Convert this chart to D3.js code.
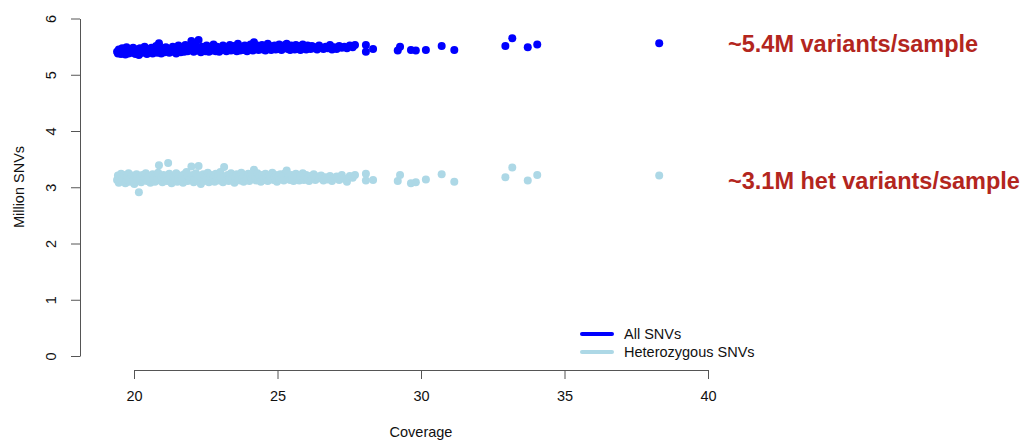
<!DOCTYPE html>
<html>
<head>
<meta charset="utf-8">
<script src="https://cdn.jsdelivr.net/npm/d3@7"></script>
<style>
  body { margin: 0; background: #fff; }
  svg { display: block; font-family: "Liberation Sans", Arial, Helvetica, sans-serif; }
</style>
</head>
<body>
<div id="chart"></div>
<script>
// per-sample coverage (x) and SNV counts in millions
const coverage = [
  19.41, 19.44, 19.47, 19.51, 19.55, 19.59, 19.62, 19.66, 19.70, 19.74,
  19.78, 19.81, 19.85, 19.89, 19.93, 19.97, 20.01, 20.05, 20.09, 20.13,
  20.17, 20.21, 20.25, 20.29, 20.33, 20.37, 20.41, 20.45, 20.49, 20.53,
  20.57, 20.61, 20.65, 20.69, 20.73, 20.77, 20.81, 20.84, 20.87, 20.91,
  20.95, 20.99, 21.03, 21.07, 21.11, 21.15, 21.19, 21.23, 21.27, 21.31,
  21.35, 21.39, 21.43, 21.47, 21.51, 21.55, 21.59, 21.63, 21.67, 21.71,
  21.75, 21.79, 21.83, 21.87, 21.91, 21.95, 22.00, 22.04, 22.08, 22.12,
  22.16, 22.20, 22.25, 22.29, 22.33, 22.37, 22.41, 22.45, 22.49, 22.53,
  22.57, 22.61, 22.65, 22.69, 22.73, 22.77, 22.81, 22.85, 22.89, 22.93,
  22.97, 23.01, 23.05, 23.10, 23.14, 23.18, 23.22, 23.26, 23.30, 23.34,
  23.38, 23.42, 23.46, 23.50, 23.54, 23.58, 23.62, 23.66, 23.70, 23.74,
  23.78, 23.82, 23.86, 23.90, 23.94, 23.98, 24.02, 24.06, 24.10, 24.14,
  24.18, 24.22, 24.26, 24.30, 24.34, 24.38, 24.42, 24.46, 24.50, 24.54,
  24.58, 24.62, 24.66, 24.70, 24.74, 24.78, 24.82, 24.86, 24.90, 24.94,
  24.98, 25.02, 25.06, 25.10, 25.14, 25.18, 25.22, 25.26, 25.32, 25.36,
  25.40, 25.44, 25.48, 25.52, 25.56, 25.60, 25.64, 25.68, 25.72, 25.76,
  25.80, 25.84, 25.88, 25.92, 25.96, 26.00, 26.05, 26.10, 26.15, 26.20,
  26.26, 26.32, 26.38, 26.45, 26.52, 26.60, 26.68, 26.75, 26.83, 26.90,
  26.98, 27.06, 27.15, 27.24, 27.33, 27.42, 27.52, 27.62, 27.70, 28.08,
  28.08, 28.33, 29.19, 29.27, 29.65, 29.82, 30.17, 30.72, 31.16, 32.94,
  33.18, 33.72, 34.05, 38.30
];
const allSNVs = [
  5.41, 5.38, 5.45, 5.42, 5.37, 5.47, 5.40, 5.44, 5.36, 5.49,
  5.41, 5.38, 5.46, 5.43, 5.39, 5.48, 5.42, 5.37, 5.45, 5.40,
  5.35, 5.47, 5.42, 5.39, 5.44, 5.50, 5.41, 5.37, 5.46, 5.43,
  5.40, 5.48, 5.38, 5.44, 5.41, 5.51, 5.39, 5.45, 5.56, 5.42,
  5.38, 5.47, 5.43, 5.40, 5.49, 5.44, 5.46, 5.39, 5.45, 5.42,
  5.50, 5.41, 5.47, 5.38, 5.44, 5.52, 5.43, 5.40, 5.48, 5.45,
  5.41, 5.53, 5.46, 5.42, 5.49, 5.44, 5.60, 5.47, 5.41, 5.55,
  5.45, 5.43, 5.62, 5.48, 5.40, 5.50, 5.44, 5.47, 5.42, 5.52,
  5.45, 5.41, 5.49, 5.46, 5.43, 5.54, 5.47, 5.42, 5.50, 5.45,
  5.41, 5.48, 5.44, 5.52, 5.50, 5.46, 5.42, 5.49, 5.45, 5.53,
  5.43, 5.47, 5.51, 5.44, 5.48, 5.42, 5.55, 5.46, 5.43, 5.50,
  5.47, 5.44, 5.52, 5.46, 5.42, 5.49, 5.45, 5.54, 5.47, 5.43,
  5.58, 5.50, 5.46, 5.52, 5.44, 5.49, 5.47, 5.53, 5.45, 5.50,
  5.43, 5.48, 5.55, 5.46, 5.51, 5.44, 5.49, 5.47, 5.52, 5.45,
  5.50, 5.46, 5.54, 5.48, 5.44, 5.51, 5.47, 5.53, 5.55, 5.46,
  5.50, 5.44, 5.52, 5.47, 5.49, 5.45, 5.53, 5.48, 5.46, 5.51,
  5.44, 5.49, 5.54, 5.47, 5.50, 5.45, 5.52, 5.48, 5.46, 5.51,
  5.47, 5.49, 5.45, 5.52, 5.48, 5.46, 5.50, 5.47, 5.53, 5.45,
  5.49, 5.46, 5.51, 5.48, 5.50, 5.47, 5.52, 5.49, 5.53, 5.53,
  5.41, 5.46, 5.43, 5.50, 5.44, 5.43, 5.44, 5.51, 5.44, 5.51,
  5.65, 5.49, 5.54, 5.56
];
const hetSNVs = [
  3.13, 3.21, 3.08, 3.18, 3.24, 3.11, 3.16, 3.22, 3.07, 3.14,
  3.19, 3.25, 3.10, 3.17, 3.21, 3.12, 3.06, 3.19, 3.23, 3.14,
  2.91, 3.17, 3.09, 3.22, 3.13, 3.18, 3.25, 3.11, 3.16, 3.20,
  3.08, 3.14, 3.23, 3.17, 3.10, 3.21, 3.15, 3.26, 3.39, 3.12,
  3.18, 3.09, 3.22, 3.15, 3.19, 3.11, 3.43, 3.24, 3.16, 3.07,
  3.20, 3.13, 3.18, 3.25, 3.10, 3.16, 3.21, 3.12, 3.19, 3.08,
  3.23, 3.15, 3.27, 3.11, 3.18, 3.14, 3.37, 3.22, 3.09, 3.17,
  3.25, 3.13, 3.38, 3.20, 3.06, 3.16, 3.23, 3.11, 3.19, 3.14,
  3.26, 3.09, 3.18, 3.22, 3.13, 3.17, 3.10, 3.24, 3.15, 3.20,
  3.12, 3.27, 3.16, 3.09, 3.36, 3.19, 3.14, 3.22, 3.11, 3.18,
  3.25, 3.13, 3.20, 3.08, 3.17, 3.23, 3.15, 3.19, 3.12, 3.26,
  3.16, 3.10, 3.21, 3.14, 3.18, 3.24, 3.11, 3.20, 3.15, 3.22,
  3.31, 3.17, 3.12, 3.25, 3.14, 3.19, 3.10, 3.22, 3.16, 3.13,
  3.24, 3.18, 3.11, 3.21, 3.15, 3.19, 3.26, 3.13, 3.17, 3.22,
  3.10, 3.18, 3.14, 3.23, 3.16, 3.20, 3.12, 3.25, 3.30, 3.15,
  3.19, 3.13, 3.22, 3.16, 3.11, 3.20, 3.24, 3.14, 3.18, 3.12,
  3.21, 3.16, 3.25, 3.13, 3.19, 3.22, 3.15, 3.11, 3.20, 3.17,
  3.23, 3.13, 3.19, 3.16, 3.21, 3.12, 3.18, 3.14, 3.20, 3.11,
  3.16, 3.19, 3.13, 3.22, 3.15, 3.10, 3.20, 3.17, 3.22, 3.24,
  3.12, 3.13, 3.11, 3.22, 3.07, 3.09, 3.14, 3.23, 3.10, 3.18,
  3.35, 3.12, 3.22, 3.21
];

const xTicks = [20, 25, 30, 35, 40];
const yTicks = [0, 1, 2, 3, 4, 5, 6];
const seriesNames = ["All SNVs", "Heterozygous SNVs"];
const seriesColors = ["#0000ff", "#add8e6"];
const notes = ["~5.4M variants/sample", "~3.1M het variants/sample"];
const noteLevels = [5.4, 3.1];

const width = 1024;
const height = 442;

const svg = d3.select("#chart").append("svg")
    .attr("width", width)
    .attr("height", height);

const x = d3.scaleLinear().domain([20, 40]).range([134, 708]);
const y = d3.scaleLinear().domain([0, 6]).range([356, 18.5]);

const axisColor = "#555";
const fs = "14.5px";

// y axis, R style with rotated labels
const gy = svg.append("g")
    .attr("transform", "translate(80,0)")
    .call(d3.axisLeft(y).tickValues(yTicks).tickFormat(d3.format("d"))
        .tickSize(9).tickSizeOuter(0).tickPadding(0));
gy.selectAll("text")
    .attr("transform", "translate(-29,0) rotate(-90)")
    .attr("text-anchor", "middle")
    .attr("x", 0)
    .attr("dy", "0.35em")
    .attr("font-size", fs)
    .attr("fill", "#111");

// x axis
const gx = svg.append("g")
    .attr("transform", "translate(0,370)")
    .call(d3.axisBottom(x).tickValues(xTicks).tickSize(9).tickSizeOuter(0).tickPadding(12));
gx.selectAll("text")
    .attr("font-size", fs)
    .attr("fill", "#111");

[gx, gy].forEach(g => {
    g.select(".domain").attr("stroke", axisColor);
    g.selectAll(".tick line").attr("stroke", axisColor);
});

// axis titles
svg.append("text")
    .attr("x", 421)
    .attr("y", 437)
    .attr("text-anchor", "middle")
    .attr("font-size", fs)
    .attr("fill", "#111")
    .text("Coverage");

svg.append("text")
    .attr("transform", "translate(24,187) rotate(-90)")
    .attr("text-anchor", "middle")
    .attr("font-size", fs)
    .attr("fill", "#111")
    .text("Million SNVs");

// points
const points = coverage.map((c, i) => ({ c: c, all: allSNVs[i], het: hetSNVs[i] }));

svg.append("g").selectAll("circle")
    .data(points)
    .enter().append("circle")
    .attr("cx", d => x(d.c))
    .attr("cy", d => y(d.all))
    .attr("r", 4)
    .attr("fill", seriesColors[0]);

svg.append("g").selectAll("circle")
    .data(points)
    .enter().append("circle")
    .attr("cx", d => x(d.c))
    .attr("cy", d => y(d.het))
    .attr("r", 4)
    .attr("fill", seriesColors[1]);

// legend
const legend = svg.append("g").attr("transform", "translate(582,334)");
seriesNames.forEach((name, i) => {
    legend.append("line")
        .attr("x1", 0).attr("x2", 30)
        .attr("y1", i * 18).attr("y2", i * 18)
        .attr("stroke", seriesColors[i])
        .attr("stroke-width", 4)
        .attr("stroke-linecap", "round");
    legend.append("text")
        .attr("x", 42)
        .attr("y", i * 18)
        .attr("dy", "0.35em")
        .attr("font-size", fs)
        .attr("fill", "#111")
        .text(name);
});

// red annotations, baselines just under each level
const noteBaselines = [52, 189];
notes.forEach((t, i) => {
    svg.append("text")
        .attr("x", 728)
        .attr("y", noteBaselines[i])
        .attr("font-size", "23.5px")
        .attr("font-weight", "bold")
        .attr("fill", "#b3261e")
        .text(t);
});
</script>
</body>
</html>
